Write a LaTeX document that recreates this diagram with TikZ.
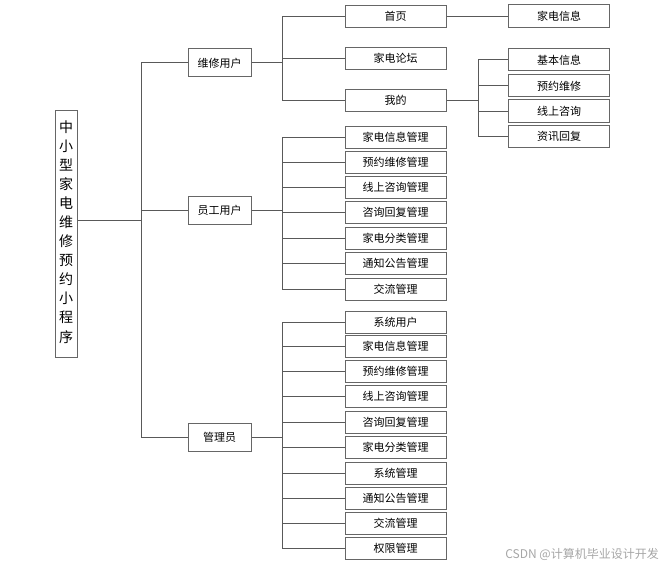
\documentclass[tikz,border=0pt]{standalone}
\usepackage{fontspec}
\newfontfamily\cjk{Noto Sans CJK SC}
\colorlet{box edge}{black!60}
\colorlet{link line}{black!65}
\tikzset{box/.style={draw=box edge, line width=1pt, inner sep=0pt,
        minimum width=101pt, minimum height=22pt, font=\cjk\fontsize{11}{13}\selectfont},
    rolebox/.style={box, minimum width=63pt, minimum height=28pt},
    link/.style={draw=link line, line width=1pt}}

\begin{document}
\begin{tikzpicture}[x=1pt, y=-1pt]
    \useasboundingbox (0,0) rectangle (668,575);
    % root
    \node[draw=box edge, line width=1pt, inner sep=0pt, minimum width=22pt, minimum height=247pt,
        font=\cjk\fontsize{14}{19}\selectfont] (root) at (66,233.5)
        {\raisebox{6pt}{\begin{tabular}{@{}c@{}}中\\小\\型\\家\\电\\维\\修\\预\\约\\小\\程\\[1pt]序\end{tabular}}};
    % roles
    \node[rolebox] (user)  at (219.5,63)  {维修用户};
    \node[rolebox] (staff) at (219.5,210.5) {员工用户};
    \node[rolebox] (admin) at (219.5,437) {管理员};
    \coordinate (trunk) at (141,220);
    \draw[link] (root.east |- trunk) -- (trunk);
    \draw[link] (trunk) |- (user.west);
    \draw[link] (trunk) |- (staff.west);
    \draw[link] (trunk) |- (admin.west);
    % repair user
    \node[box] (home)  at (395.5,16.5)  {首页};
    \node[box] (forum) at (395.5,58.5)  {家电论坛};
    \node[box] (mine)  at (395.5,100.5) {我的};
    \coordinate (busu) at (282,63);
    \draw[link] (user.east) -- (busu);
    \foreach \c in {home,forum,mine} \draw[link] (busu) |- (\c.west);
    \node[box, minimum height=23pt] (info) at (559,16.5) {家电信息};
    \draw[link] (home.east) -- (info.west);
    \node[box] (basic)   at (559,60)  {基本信息};
    \node[box] (book)    at (559,86)  {预约维修};
    \node[box] (consult) at (559,111) {线上咨询};
    \node[box] (reply)   at (559,136) {资讯回复};
    \coordinate (busm) at (478,100.5);
    \draw[link] (mine.east) -- (busm);
    \foreach \c in {basic,book,consult,reply} \draw[link] (busm) |- (\c.west);
    % staff user
    \node[box] (s1) at (395.5,137)   {家电信息管理};
    \node[box] (s2) at (395.5,162)   {预约维修管理};
    \node[box] (s3) at (395.5,187)   {线上咨询管理};
    \node[box] (s4) at (395.5,212.5) {咨询回复管理};
    \node[box] (s5) at (395.5,238)   {家电分类管理};
    \node[box] (s6) at (395.5,263)   {通知公告管理};
    \node[box] (s7) at (395.5,289.5) {交流管理};
    \coordinate (buss) at (282,210.5);
    \draw[link] (staff.east) -- (buss);
    \foreach \i in {1,...,7} \draw[link] (buss) |- (s\i.west);
    % administrator
    \node[box] (a1)  at (395.5,322)   {系统用户};
    \node[box] (a2)  at (395.5,346.5) {家电信息管理};
    \node[box] (a3)  at (395.5,371)   {预约维修管理};
    \node[box] (a4)  at (395.5,396)   {线上咨询管理};
    \node[box] (a5)  at (395.5,422)   {咨询回复管理};
    \node[box] (a6)  at (395.5,447)   {家电分类管理};
    \node[box] (a7)  at (395.5,473)   {系统管理};
    \node[box] (a8)  at (395.5,498)   {通知公告管理};
    \node[box] (a9)  at (395.5,523.5) {交流管理};
    \node[box] (a10) at (395.5,548.5) {权限管理};
    \coordinate (busa) at (282,437);
    \draw[link] (admin.east) -- (busa);
    \foreach \i in {1,...,10} \draw[link] (busa) |- (a\i.west);
    % watermark
    \node[font=\cjk\fontsize{12}{14}\selectfont, text=black!35, anchor=east, inner sep=0pt]
        (mark) at (659,554) {CSDN @计算机毕业设计开发};
\end{tikzpicture}
\end{document}
